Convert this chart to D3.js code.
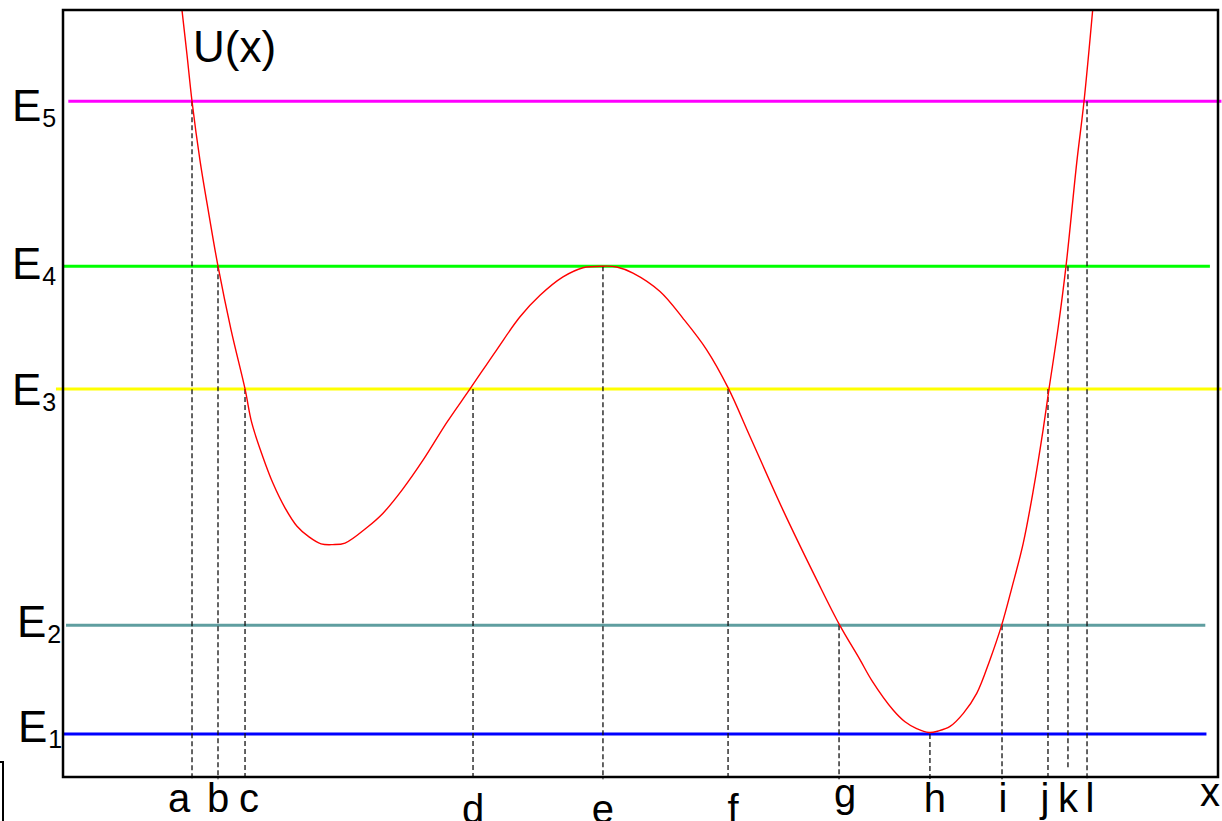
<!DOCTYPE html>
<html>
<head>
<meta charset="utf-8">
<script src="https://cdn.jsdelivr.net/npm/d3@7"></script>
<style>
  html, body { margin: 0; padding: 0; background: #fff; }
  svg { display: block; }
  text { font-family: "Liberation Sans", Arial, sans-serif; fill: #000; }
</style>
</head>
<body>
<svg id="chart" width="1222" height="821"></svg>
<script>
// ---------- data (chart units: x 0..10, U 0..10) ----------
const curveX = [1.030, 1.074, 1.117, 1.186, 1.264, 1.342, 1.455, 1.576, 1.634, 1.729, 1.818, 1.922,
  2.026, 2.130, 2.234, 2.335, 2.442, 2.629, 2.771, 2.935, 3.117, 3.322, 3.524, 3.755, 3.957, 4.130,
  4.329, 4.502, 4.684, 4.794, 4.935, 5.169, 5.368, 5.573, 5.760, 5.948, 6.234, 6.526, 6.721, 6.900,
  7.002, 7.189, 7.290, 7.391, 7.498, 7.578, 7.680, 7.795, 7.911, 8.026, 8.127, 8.214, 8.314, 8.401,
  8.487, 8.537, 8.617, 8.684, 8.777, 8.840, 8.915];
const curveU = [10.0, 9.41, 8.81, 8.04, 7.33, 6.66, 5.83, 5.06, 4.62, 4.18, 3.83, 3.51,
  3.27, 3.13, 3.04, 3.03, 3.05, 3.25, 3.44, 3.74, 4.13, 4.62, 5.06, 5.57, 6.00, 6.28,
  6.52, 6.64, 6.66, 6.65, 6.57, 6.33, 5.98, 5.57, 5.07, 4.44, 3.48, 2.57, 1.99, 1.53,
  1.26, 0.87, 0.72, 0.63, 0.58, 0.60, 0.66, 0.83, 1.09, 1.53, 1.98, 2.46, 3.05, 3.74,
  4.54, 5.06, 5.87, 6.66, 8.01, 8.81, 10.0];

const levelNames  = ["E1", "E2", "E3", "E4", "E5"];
const levelValues = [0.56, 1.98, 5.06, 6.66, 8.81];
const levelColors = ["#0000ff", "#5f9ea0", "#ffff00", "#00ff00", "#ff00ff"];
const levelFrom   = [0.0, 0.026, -0.061, 0.0, 0.046];
const levelTo     = [9.90, 9.89, 10.03, 9.93, 10.03];

const pointLabels = ["a", "b", "c", "d", "e", "f", "g", "h", "i", "j", "k", "l"];
const pointX      = [1.117, 1.342, 1.576, 3.550, 4.675, 5.758, 6.719, 7.506, 8.130, 8.528, 8.701, 8.866];
const pointLevel  = [5, 4, 3, 3, 4, 3, 2, 1, 2, 3, 4, 5];
const axisLabel   = "x";
const curveLabel  = "U(x)";

// ---------- layout ----------
const W = 1222, H = 821;
const margin = { top: 10, right: 4, bottom: 44, left: 63 };
const svg = d3.select("#chart");

const x = d3.scaleLinear().domain([0, 10]).range([margin.left, W - margin.right]);
const y = d3.scaleLinear().domain([0, 10]).range([H - margin.bottom, margin.top]);

// label layout tweaks (pixel offsets)
const levelLabelDx = [6, 5, 0, 0, 0];
const levelLabelDy = [8, 12, 16, 13, 20];
const pointLabelDx = [-13, 0, 4, 0, 0, 5, 6, 5, 1, -3, 0, 3];
const pointLabelDy = [35, 35, 35, 46, 46, 46, 30, 35, 35, 35, 35, 35];

// level lines
levelValues.forEach((v, i) => {
  svg.append("line")
    .attr("x1", x(levelFrom[i])).attr("x2", x(levelTo[i]))
    .attr("y1", y(v)).attr("y2", y(v))
    .attr("stroke", levelColors[i]).attr("stroke-width", 3);
});

// dashed drop lines
pointX.forEach((px, i) => {
  svg.append("line")
    .attr("x1", x(px)).attr("x2", x(px))
    .attr("y1", y(levelValues[pointLevel[i] - 1]))
    .attr("y2", y(i === 10 ? 0.12 : -0.03))
    .attr("stroke", "#111").attr("stroke-width", 1.3)
    .attr("stroke-dasharray", "5,3");
});

// curve
svg.append("clipPath").attr("id", "plotclip").append("rect")
  .attr("x", x(0)).attr("y", y(10)).attr("width", x(10) - x(0)).attr("height", y(0) - y(10));
const pts = curveX.map((cx, i) => [cx, curveU[i]]);
svg.append("path")
  .datum(pts)
  .attr("clip-path", "url(#plotclip)")
  .attr("fill", "none").attr("stroke", "#ff0000").attr("stroke-width", 1.4)
  .attr("d", d3.line().curve(d3.curveCatmullRom.alpha(0.5)).x(d => x(d[0])).y(d => y(d[1])));

// frame
svg.append("rect")
  .attr("x", x(0)).attr("y", y(10))
  .attr("width", x(10) - x(0)).attr("height", y(0) - y(10))
  .attr("fill", "none").attr("stroke", "#000").attr("stroke-width", 2.5);

// level labels
levelNames.forEach((name, i) => {
  const t = svg.append("text")
    .attr("x", 12 + levelLabelDx[i])
    .attr("y", y(levelValues[i]) + levelLabelDy[i])
    .attr("font-size", 44);
  t.append("tspan").text(name[0]);
  t.append("tspan").attr("font-size", 25).attr("dy", 6).attr("dx", 1).text(name.slice(1));
});

// point labels
pointLabels.forEach((lab, i) => {
  svg.append("text")
    .attr("x", x(pointX[i]) + pointLabelDx[i])
    .attr("y", y(0) + pointLabelDy[i])
    .attr("text-anchor", "middle")
    .attr("font-size", 40)
    .text(lab);
});
svg.append("text")
  .attr("x", x(10) - 8).attr("y", y(0) + 29)
  .attr("text-anchor", "middle").attr("font-size", 40)
  .text(axisLabel);

// curve label
svg.append("text")
  .attr("x", 193).attr("y", y(10) + 52)
  .attr("font-size", 44)
  .text(curveLabel);

// left-edge fragment seen in the source image
svg.append("path")
  .attr("d", `M0,${H - 59} H3 V${H}`)
  .attr("fill", "none").attr("stroke", "#000").attr("stroke-width", 2);
</script>
</body>
</html>
